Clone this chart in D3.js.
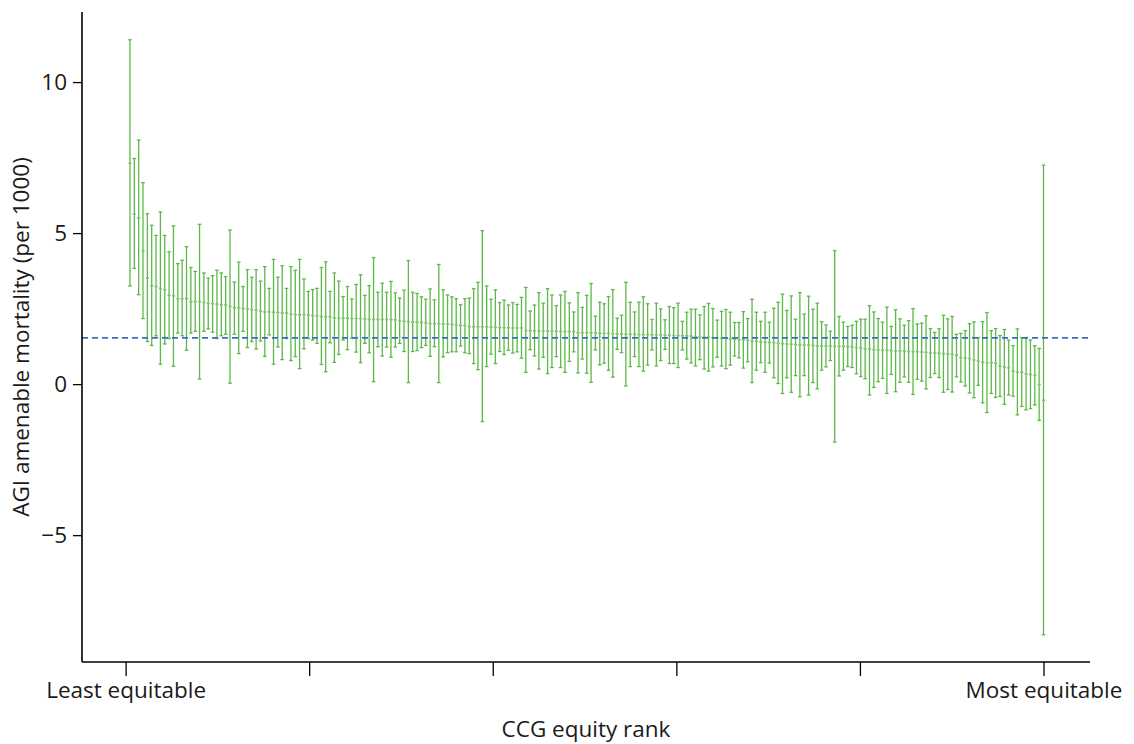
<!DOCTYPE html>
<html>
<head>
<meta charset="utf-8">
<script src="https://cdn.jsdelivr.net/npm/d3@7"></script>
<style>
  body { margin: 0; background: #fff; }
  svg { display: block; }
  text { font-family: "Open Sans", "Noto Sans", sans-serif; fill: #1a1a1a; }
</style>
</head>
<body>
<svg id="chart" width="1134" height="744"></svg>
<script>
// ---- Data (CCG equity rank 1..211) ----
const meanVals = [
7.31,5.63,5.50,4.41,3.51,3.26,3.23,3.17,3.12,2.94,
2.92,2.83,2.83,2.83,2.73,2.73,2.73,2.70,2.67,2.67,
2.65,2.62,2.62,2.57,2.53,2.53,2.50,2.49,2.46,2.46,
2.42,2.39,2.39,2.38,2.37,2.36,2.35,2.32,2.30,2.30,
2.30,2.29,2.27,2.26,2.24,2.23,2.23,2.19,2.18,2.18,
2.18,2.17,2.17,2.17,2.16,2.14,2.14,2.14,2.14,2.14,
2.14,2.13,2.09,2.08,2.07,2.06,2.05,2.04,2.03,2.00,
2.00,2.00,1.99,1.99,1.98,1.95,1.94,1.94,1.90,1.90,
1.90,1.90,1.90,1.89,1.88,1.87,1.87,1.87,1.86,1.86,
1.86,1.77,1.77,1.76,1.76,1.76,1.76,1.75,1.75,1.74,
1.74,1.74,1.74,1.70,1.70,1.70,1.70,1.70,1.68,1.68,
1.68,1.67,1.66,1.66,1.65,1.65,1.65,1.64,1.64,1.64,
1.63,1.63,1.63,1.62,1.62,1.61,1.61,1.60,1.60,1.59,
1.57,1.56,1.55,1.55,1.54,1.53,1.52,1.51,1.50,1.49,
1.47,1.46,1.45,1.43,1.42,1.40,1.39,1.38,1.37,1.36,
1.34,1.33,1.32,1.31,1.30,1.30,1.29,1.28,1.27,1.26,
1.26,1.26,1.25,1.25,1.25,1.24,1.24,1.21,1.20,1.17,
1.16,1.14,1.13,1.12,1.12,1.11,1.10,1.10,1.09,1.08,
1.08,1.07,1.06,1.05,1.03,1.03,1.02,1.01,1.00,0.99,
0.96,0.88,0.86,0.85,0.80,0.76,0.72,0.71,0.71,0.69,
0.60,0.57,0.54,0.43,0.40,0.39,0.34,0.32,0.29,-0.02,
-0.53];

const lowerVals = [
3.25,3.83,2.96,2.17,1.41,1.28,1.60,0.66,1.33,1.51,
0.59,1.69,1.60,1.12,1.69,1.75,0.17,1.75,1.83,1.72,
1.51,1.60,1.65,0.03,1.65,1.01,1.75,1.21,1.41,1.16,
1.43,0.92,1.63,0.66,1.23,0.81,1.51,0.78,0.91,0.51,
1.17,1.51,1.46,1.35,0.65,0.41,1.37,0.72,0.98,1.46,
1.14,1.52,1.06,0.71,1.35,1.04,0.08,1.24,0.93,1.23,
0.89,1.23,1.35,1.08,0.05,1.08,1.11,1.21,1.28,0.92,
1.24,0.05,0.90,1.04,1.07,1.07,1.26,1.04,1.01,0.68,
0.48,-1.24,0.58,0.99,0.68,1.08,0.98,1.12,1.03,1.07,
0.86,0.39,1.14,0.93,0.50,0.89,0.35,0.55,0.91,0.55,
0.39,0.75,1.07,0.37,0.83,0.36,0.06,1.13,0.64,0.69,
0.46,0.23,1.15,1.04,-0.06,0.58,0.91,0.58,0.43,0.63,
1.13,0.60,0.78,1.15,0.68,0.68,0.55,1.13,0.83,0.70,
0.60,0.81,0.50,0.43,0.57,0.89,0.60,0.51,0.63,0.93,
0.87,0.53,0.74,0.05,0.46,0.71,0.39,0.70,0.21,0.02,
-0.31,0.21,-0.27,0.28,-0.42,0.28,-0.36,0.05,-0.16,0.46,
0.57,0.78,-1.92,0.27,0.46,0.58,0.55,0.34,0.25,0.18,
-0.36,-0.11,0.08,0.19,-0.31,0.32,-0.25,0.06,0.24,0.06,
-0.34,0.16,0.10,-0.16,0.22,0.35,0.22,-0.27,-0.18,-0.26,
0.24,0.07,-0.06,-0.29,-0.45,-0.04,-0.62,-0.94,-0.31,-0.44,
-0.41,-0.67,-0.36,-0.40,-1.02,-0.74,-0.85,-0.81,-0.69,-1.20,
-8.30];

const upperVals = [
11.40,7.47,8.08,6.67,5.64,5.26,4.92,5.70,4.92,4.38,
5.24,3.99,4.10,4.55,3.86,3.73,5.29,3.68,3.51,3.59,
3.77,3.68,3.56,5.10,3.38,4.04,3.23,3.79,3.54,3.79,
3.41,3.89,3.17,4.13,3.54,3.92,3.17,3.89,3.77,4.13,
3.48,3.07,3.13,3.17,3.86,4.05,3.07,3.68,3.41,2.90,
3.23,2.82,3.30,3.62,2.94,3.26,4.19,3.04,3.34,3.04,
3.40,3.02,2.85,3.11,4.09,3.04,3.00,2.89,2.81,3.15,
2.79,3.96,3.12,2.95,2.89,2.83,2.63,2.83,2.85,3.16,
3.37,5.08,3.25,2.81,3.12,2.70,2.78,2.62,2.70,2.64,
2.87,3.20,2.42,2.62,3.03,2.68,3.16,2.95,2.60,2.95,
3.07,2.69,2.39,3.03,2.54,2.94,3.33,2.25,2.71,2.66,
2.90,3.13,2.18,2.28,3.37,2.71,2.39,2.71,2.89,2.66,
2.14,2.68,2.49,2.13,2.57,2.53,2.68,2.08,2.38,2.48,
2.48,2.29,2.57,2.67,2.50,2.12,2.41,2.47,2.38,2.04,
2.04,2.40,2.17,2.81,2.38,2.08,2.38,2.05,2.51,2.71,
2.98,2.44,2.92,2.15,3.03,2.32,2.91,2.48,2.68,2.07,
1.96,1.75,4.42,2.24,2.05,1.91,1.95,2.08,2.15,2.15,
2.60,2.39,2.17,2.05,2.55,1.91,2.46,2.16,1.95,2.10,
2.50,1.99,2.02,2.26,1.84,1.71,1.83,2.28,2.16,2.24,
1.65,1.68,1.77,2.00,2.06,1.54,2.07,2.37,1.77,1.84,
1.61,1.81,1.46,1.27,1.83,1.54,1.54,1.46,1.27,1.18,
7.25];

const referenceValue = 1.53;           // dashed reference line
const yTickValues = [-5, 0, 5, 10];
const xTickLabels = ["Least equitable", "", "", "", "", "Most equitable"];
const xLabel = "CCG equity rank";
const yLabel = "AGI amenable mortality (per 1000)";

// ---- Layout ----
const svg = d3.select("#chart");
const plotLeft = 82, plotRight = 1090, plotTop = 12, plotBottom = 662;
const nRanks = meanVals.length;
const fontFam = '"Open Sans", "Noto Sans", sans-serif';
const fs = 22.5;

const x = d3.scaleLinear().domain([0, nRanks]).range([125.6, 1043.5]);
const y = d3.scaleLinear().domain([-9.2, 12.32]).range([plotBottom, plotTop]);

const data = meanVals.map((m, i) => ({ rank: i + 1, mean: m, lo: lowerVals[i], hi: upperVals[i] }));

const green = "#5cb848";
const capHalf = 1.8;

// Error bars
const g = svg.append("g");
g.selectAll("line.bar").data(data).enter().append("line")
  .attr("x1", d => x(d.rank)).attr("x2", d => x(d.rank))
  .attr("y1", d => y(d.hi)).attr("y2", d => y(d.lo))
  .attr("stroke", green).attr("stroke-width", 1.3);
g.selectAll("line.capHi").data(data).enter().append("line")
  .attr("x1", d => x(d.rank) - capHalf).attr("x2", d => x(d.rank) + capHalf)
  .attr("y1", d => y(d.hi)).attr("y2", d => y(d.hi))
  .attr("stroke", green).attr("stroke-width", 1.3);
g.selectAll("line.capLo").data(data).enter().append("line")
  .attr("x1", d => x(d.rank) - capHalf).attr("x2", d => x(d.rank) + capHalf)
  .attr("y1", d => y(d.lo)).attr("y2", d => y(d.lo))
  .attr("stroke", green).attr("stroke-width", 1.3);
// mean markers
g.selectAll("line.mean").data(data).enter().append("line")
  .attr("x1", d => x(d.rank) - 1.6).attr("x2", d => x(d.rank) + 1.6)
  .attr("y1", d => y(d.mean)).attr("y2", d => y(d.mean))
  .attr("stroke", "#7fc46f").attr("stroke-width", 1.6);

// Reference dashed line
svg.append("line")
  .attr("x1", plotLeft).attr("x2", plotRight)
  .attr("y1", y(referenceValue)).attr("y2", y(referenceValue))
  .attr("stroke", "#3d6cc0").attr("stroke-width", 1.6)
  .attr("stroke-dasharray", "6,4");

// Y axis
const yAxis = d3.axisLeft(y).tickValues(yTickValues).tickSize(9).tickSizeOuter(0)
  .tickFormat(d => d < 0 ? "\u2212" + Math.abs(d) : String(d));
const yg = svg.append("g").attr("transform", `translate(${plotLeft},0)`).call(yAxis);
yg.select(".domain").remove();
yg.selectAll(".tick line").attr("stroke", "#000").attr("stroke-width", 1.3);
yg.selectAll(".tick text").attr("font-size", fs).attr("x", -15)
  .style("font-family", fontFam).attr("fill", "#1a1a1a");
svg.append("line").attr("x1", plotLeft).attr("x2", plotLeft)
  .attr("y1", plotTop).attr("y2", plotBottom).attr("stroke", "#000").attr("stroke-width", 1.6);

// X axis
const xTickVals = xTickLabels.map((_, i) => i * nRanks / (xTickLabels.length - 1));
const xAxis = d3.axisBottom(x).tickValues(xTickVals).tickSize(14).tickSizeOuter(0)
  .tickFormat((d, i) => xTickLabels[i]);
const xg = svg.append("g").attr("transform", `translate(0,${plotBottom})`).call(xAxis);
xg.select(".domain").remove();
xg.selectAll(".tick line").attr("stroke", "#000").attr("stroke-width", 1.3);
xg.selectAll(".tick text").attr("font-size", fs).attr("y", 20)
  .style("font-family", fontFam).attr("fill", "#1a1a1a");
svg.append("line").attr("x1", plotLeft).attr("x2", plotRight)
  .attr("y1", plotBottom).attr("y2", plotBottom).attr("stroke", "#000").attr("stroke-width", 1.6);

// Axis titles
svg.append("text").attr("x", (plotLeft + plotRight) / 2).attr("y", 737)
  .attr("text-anchor", "middle").attr("font-size", fs).text(xLabel);
svg.append("text")
  .attr("transform", `translate(29,${(plotTop + plotBottom) / 2}) rotate(-90)`)
  .attr("text-anchor", "middle").attr("font-size", fs).text(yLabel);
</script>
</body>
</html>
